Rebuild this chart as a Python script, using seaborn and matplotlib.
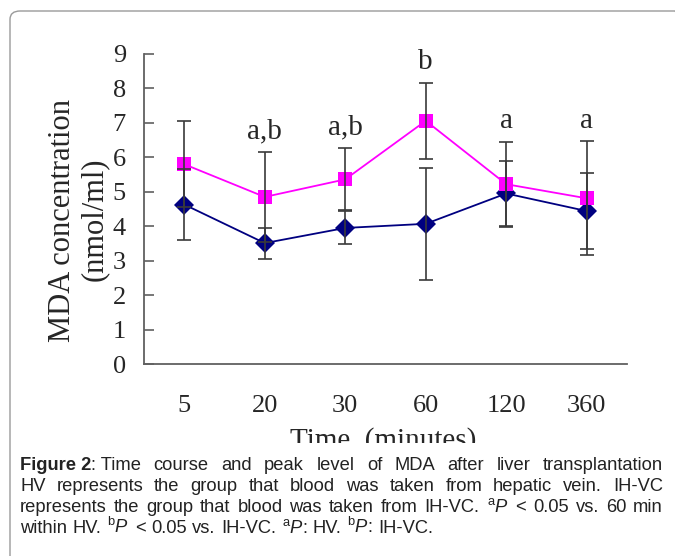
import matplotlib
matplotlib.use("Agg")
import matplotlib.pyplot as plt
from matplotlib.patches import FancyBboxPatch, Rectangle
import numpy as np
import pandas as pd
import seaborn as sns

# Data (means and SD per time point)
times = ["5", "20", "30", "60", "120", "360"]
hv_mean = [4.63, 3.51, 3.95, 4.07, 4.95, 4.44]
hv_sd = [1.02, 0.45, 0.48, 1.63, 0.93, 1.10]
ihvc_mean = [5.80, 4.85, 5.36, 7.06, 5.22, 4.81]
ihvc_sd = [1.25, 1.30, 0.90, 1.11, 1.23, 1.65]
sig_labels = ["", "a,b", "a,b", "b", "a", "a"]

sns.set_theme(style="white")
plt.rcParams["font.family"] = ["Liberation Serif", "DejaVu Serif"]
plt.rcParams["mathtext.fontset"] = "custom"
plt.rcParams["mathtext.rm"] = "Liberation Sans"
plt.rcParams["mathtext.it"] = "Liberation Sans:italic"

pos = np.arange(len(times))
df = pd.DataFrame({
    "pos": np.concatenate([pos, pos]),
    "mda": hv_mean + ihvc_mean,
    "group": ["HV"] * len(times) + ["IH-VC"] * len(times),
})

fig = plt.figure(figsize=(6.75, 5.56), dpi=100)
ax = fig.add_axes([0.2133, 0.3453, 0.7156, 0.5576])

palette = {"HV": "#000080", "IH-VC": "#FF00FF"}
sns.lineplot(
    data=df, x="pos", y="mda", hue="group", style="group",
    markers={"HV": "D", "IH-VC": "s"}, dashes=False, palette=palette,
    markersize=10, markeredgewidth=0, linewidth=1.3, legend=False, ax=ax,
)
for mean, sd in [(hv_mean, hv_sd), (ihvc_mean, ihvc_sd)]:
    ax.errorbar(pos, mean, yerr=sd, fmt="none", ecolor="#3a3a3a",
                elinewidth=1.2, capsize=4.8, capthick=1.2, zorder=5)

# significance letters above upper error bars
for i, lab in enumerate(sig_labels):
    if lab:
        ax.text(pos[i], ihvc_mean[i] + ihvc_sd[i] + 0.22, lab,
                ha="center", va="bottom", fontsize=21)

ax.set_xlim(-0.5, len(times) - 0.5)
ax.set_ylim(0, 9)
ax.set_yticks(range(0, 10))
ax.set_xticks(pos + 0.5)
ax.set_xticklabels([])
ax.set_xticks(pos, minor=True)
ax.set_xticklabels(times, minor=True)
ax.tick_params(axis="x", which="major", direction="in", length=7,
               width=1.2, color="#606060")
ax.tick_params(axis="x", which="minor", length=0, pad=22, labelsize=19)
ax.tick_params(axis="y", direction="in", length=7, width=1.2,
               color="#606060", pad=13, labelsize=19, left=True)
for s in ["top", "right"]:
    ax.spines[s].set_visible(False)
for s in ["left", "bottom"]:
    ax.spines[s].set_color("#606060")
    ax.spines[s].set_linewidth(1.3)
ax.set_xlabel("")
ax.set_ylabel("")
fig.text(62 / 675, 1 - 220 / 556, "MDA concentration", rotation=90,
         ha="center", va="center", fontsize=22)
fig.text(94 / 675, 1 - 219 / 556, "(nmol/ml)", rotation=90,
         ha="center", va="center", fontsize=22)
fig.text(383 / 675, 1 - 441 / 556, "Time  (minutes)", ha="center",
         va="center", fontsize=21)

# crop the axis title the way the source figure is cut
fig.patches.append(Rectangle((0.02, 0), 0.98, (556 - 443) / 556,
                             transform=fig.transFigure, facecolor="white",
                             edgecolor="none", zorder=5))
fig.patches.append(FancyBboxPatch((10 / 675, -0.05), 1.0, (556 - 11) / 556 + 0.05,
                                  boxstyle="round,pad=0,rounding_size=0.015",
                                  transform=fig.transFigure, facecolor="none",
                                  edgecolor="#9a9a9a", linewidth=1.0, zorder=6))

# caption, justified like the source
sa, sb, ip = r"$^{\mathrm{a}}$", r"$^{\mathrm{b}}$", r"$\mathit{P}$"
cap_lines = [
    ["Figure 2", ": Time", "course", "and", "peak", "level", "of", "MDA", "after",
     "liver", "transplantation"],
    ["HV", "represents", "the", "group", "that", "blood", "was", "taken", "from",
     "hepatic", "vein.", "IH-VC"],
    ["represents", "the", "group", "that", "blood", "was", "taken", "from",
     "IH-VC.", sa + ip, "<", "0.05", "vs.", "60", "min"],
    ["within", "HV.", sb + ip, "<", "0.05", "vs.", "IH-VC.", sa + ip + ":", "HV.",
     sb + ip + ":", "IH-VC."],
]
cap_base = [470, 491, 512, 533]
x0, x1 = 20, 663
cfont = dict(family=["Liberation Sans", "DejaVu Sans"], fontsize=13.2,
             color="#222222", va="baseline", zorder=7)
renderer = fig.canvas.get_renderer()
for k, words in enumerate(cap_lines):
    texts = []
    for w in words:
        if w == "Figure 2":
            texts.append(fig.text(0, 0, w, fontweight="bold", **cfont))
        else:
            texts.append(fig.text(0, 0, w, **cfont))
    widths = [t.get_window_extent(renderer).width for t in texts]
    gaps = len(words) - 1
    if k < len(cap_lines) - 1:
        # "Figure 2" and ": Time" sit together
        glue = 1 if k == 0 else 0
        space = (x1 - x0 - sum(widths)) / (gaps - glue)
    else:
        space = 5.6
    x = x0
    for j, (t, w) in enumerate(zip(texts, widths)):
        t.set_position((x / 675, 1 - cap_base[k] / 556))
        x += w
        if not (k == 0 and j == 0):
            x += space

fig.savefig("out.png", dpi=100)
